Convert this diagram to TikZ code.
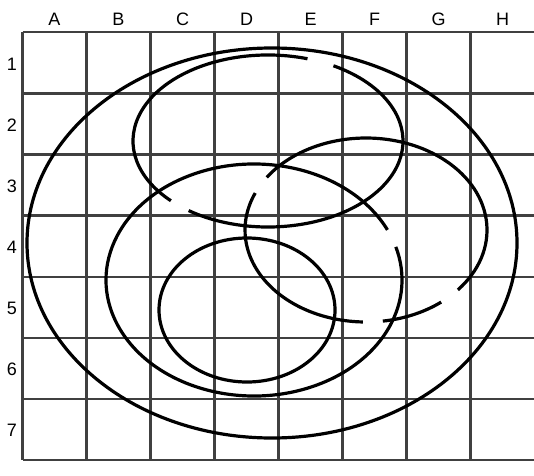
\documentclass[tikz,border=0pt]{standalone}
\usepackage{fontspec}
\setmainfont{Liberation Sans}
\begin{document}
\begin{tikzpicture}[x=1pt,y=1pt,
  gridline/.style={line width=2.4pt, draw=black!75},
  curve/.style={line width=3.2pt, draw=black, line cap=butt},
  lbl/.style={font=\fontsize{18}{18}\selectfont, inner sep=0pt}]
\useasboundingbox (0,0) rectangle (534,475);
\fill[white] (0,0) rectangle (534,475);
% grid
\foreach \i in {0,...,7}
  \draw[gridline] ({22.5+64*\i},{475-32.3}) -- ({22.5+64*\i},{475-460});
\foreach \j in {0,...,7}
  \draw[gridline] (22.5,{475-32.3-61.1*\j}) -- (534,{475-32.3-61.1*\j});
% labels
\foreach \l [count=\i from 0] in {A,B,C,D,E,F,G,H}
  \node[lbl] (col\l) at ({54.5+64*\i},456) {\l};
\foreach \r in {1,...,7}
  \node[lbl] (row\r) at (12,{475-64-61.1*(\r-1)}) {\r};
% outer ellipse
\draw[curve] (272,232) ellipse [x radius=245, y radius=195];
% small inner ellipse
\draw[curve] (247,165) ellipse [x radius=88, y radius=72];
% upper ellipse (gaps)
\draw[curve] ([shift={(73:135 and 86)}]268,334) arc[start angle=73, end angle=224, x radius=135, y radius=86];
\draw[curve] ([shift={(234:135 and 86)}]268,334) arc[start angle=234, end angle=421, x radius=135, y radius=86];
% middle ellipse
\draw[curve] ([shift={(25.6:148 and 116)}]254,195) arc[start angle=25.6, end angle=376.6, x radius=148, y radius=116];
% right ellipse
\draw[curve] ([shift={(156.3:121 and 92)}]366,245) arc[start angle=156.3, end angle=268.5, x radius=121, y radius=92];
\draw[curve] ([shift={(278:121 and 92)}]366,245) arc[start angle=278, end angle=308.4, x radius=121, y radius=92];
\draw[curve] ([shift={(319.4:121 and 92)}]366,245) arc[start angle=319.4, end angle=505.1, x radius=121, y radius=92];
\end{tikzpicture}
\end{document}
